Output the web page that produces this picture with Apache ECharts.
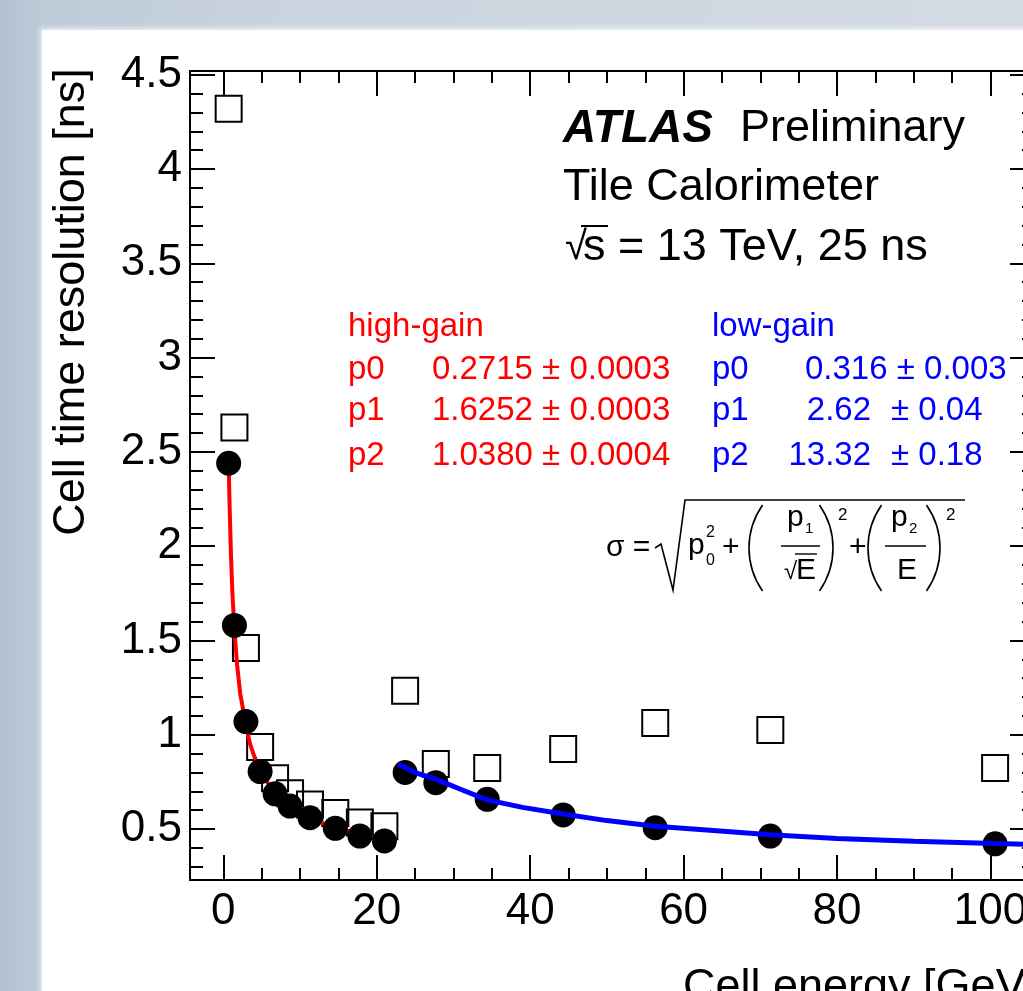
<!DOCTYPE html>
<html>
<head>
<meta charset="utf-8">
<title>Tile Calorimeter cell time resolution</title>
<script src="https://cdn.jsdelivr.net/npm/echarts@6/dist/echarts.min.js"></script>
<style>
html, body { margin: 0; padding: 0; width: 1023px; height: 991px; overflow: hidden; }
body { background: linear-gradient(90deg, #b2c0cf 0, #bdcad8 40px, #cad4de 300px, #d3dbe3 1023px); }
#panel { position: absolute; left: 42px; top: 30px; right: -20px; bottom: -20px; background: #fff;
         box-shadow: 0 0 5px 2px rgba(255,255,255,0.7); }
/* wider than the window: the right frame of the plot sits just outside the picture */
#main { position: absolute; left: 0; top: 0; width: 1060px; height: 991px; }
</style>
</head>
<body>
<div id="panel"></div>
<div id="main"></div>
<script type="text/javascript">
// high-gain cells (black dots = fitted sigma, open squares = rms)
var hgEnergy = [0.7, 1.45, 2.95, 4.8, 6.75, 8.7, 11.3, 14.6, 17.8, 21.0];
var hgSigma  = [2.44, 1.58, 1.07, 0.805, 0.687, 0.622, 0.56, 0.504, 0.463, 0.437];
var hgRms    = [4.32, 2.63, 1.46, 0.935, 0.77, 0.69, 0.63, 0.585, 0.535, 0.515];

// low-gain cells
var lgEnergy = [23.7, 27.7, 34.4, 44.3, 56.3, 71.3, 100.6];
var lgSigma  = [0.80, 0.746, 0.658, 0.575, 0.507, 0.463, 0.422];
var lgRms    = [1.233, 0.845, 0.824, 0.925, 1.063, 1.026, 0.824];

// fit curves
var hgFitE     = [0.7, 0.8, 1.0, 1.2, 1.45, 1.8, 2.2, 2.95, 3.5, 4.0, 4.8, 5.8, 6.75, 8.0, 9.5, 11.3, 13.0, 15.0, 17.8, 19.5, 21.0];
var hgFitSigma = [2.44, 2.25, 1.95, 1.74, 1.56, 1.37, 1.22, 1.05, 0.95, 0.89, 0.81, 0.745, 0.695, 0.65, 0.605, 0.562, 0.53, 0.505, 0.472, 0.46, 0.447];
var lgFitE     = [22.8, 25, 27.7, 31, 34.4, 39, 44.3, 50, 56.3, 63, 71.3, 80, 90, 100.6, 105.8];
var lgFitSigma = [0.845, 0.80, 0.765, 0.71, 0.655, 0.615, 0.58, 0.545, 0.515, 0.495, 0.47, 0.45, 0.435, 0.423, 0.418];

var xRange = { min: -4.34, max: 105.8 };
var yRange = { min: 0.23, max: 4.52 };

var FONT = '"Liberation Sans", Arial, Helvetica, sans-serif';

function pairs(xs, ys) {
    return xs.map(function (x, i) { return [x, ys[i]]; });
}

var myChart = echarts.init(document.getElementById('main'));

function axisX(pos, labels) {
    return {
        type: 'value', position: pos, min: xRange.min, max: xRange.max, splitNumber: 5,
        axisLine: { onZero: false, lineStyle: { color: '#000', width: 2 } },
        axisTick: { inside: true, length: 25, lineStyle: { color: '#000', width: 2 } },
        minorTick: { show: true, splitNumber: 4, length: 12, lineStyle: { color: '#000', width: 2 } },
        splitLine: { show: false },
        axisLabel: { show: labels, showMinLabel: false, showMaxLabel: false, color: '#000',
                     fontSize: 44, fontFamily: FONT, margin: 10 }
    };
}
function axisY(pos, labels) {
    return {
        type: 'value', position: pos, min: yRange.min, max: yRange.max, splitNumber: 8,
        axisLine: { onZero: false, lineStyle: { color: '#000', width: 2 } },
        axisTick: { inside: true, length: 25, lineStyle: { color: '#000', width: 2 } },
        minorTick: { show: true, splitNumber: 5, length: 13, lineStyle: { color: '#000', width: 2 } },
        splitLine: { show: false },
        axisLabel: { show: labels, showMinLabel: false, showMaxLabel: false, color: '#000',
                     fontSize: 44, fontFamily: FONT, margin: 8 }
    };
}

function txt(x, y, s, size, color, extra) {
    var st = { text: s, font: size + 'px ' + FONT, fill: color || '#000',
               align: 'left', verticalAlign: 'middle' };
    if (extra) { for (var k in extra) st[k] = extra[k]; }
    return { type: 'text', x: x, y: y, style: st, z: 10 };
}
function seg(pts, w) {
    return { type: 'polyline', shape: { points: pts }, style: { stroke: '#000', lineWidth: w || 1.5, fill: null }, z: 10 };
}
// thin tall bracket drawn as a circular arc; open=true gives "(", false gives ")"
function paren(edgeX, cy, open) {
    var r = 75, a = 35 * Math.PI / 180;
    var cx = open ? edgeX + r : edgeX - r;
    return { type: 'arc', z: 10,
             shape: { cx: cx, cy: cy, r: r,
                      startAngle: open ? Math.PI - a : -a, endAngle: open ? Math.PI + a : a, clockwise: true },
             style: { stroke: '#000', lineWidth: 1.6, fill: null } };
}

var red = '#ff0000', blue = '#0000ff';
var graphics = [
    // axis titles
    { type: 'text', x: 72, y: 302, rotation: Math.PI / 2, z: 10,
      style: { text: 'Cell time resolution [ns]', font: '45px ' + FONT, fill: '#000', align: 'center', verticalAlign: 'middle' } },
    txt(683, 988, 'Cell energy [GeV]', 45),
    // ATLAS label
    txt(563, 129, 'ATLAS', 46, '#000', { font: 'italic bold 46px ' + FONT }),
    txt(740, 129, 'Preliminary', 45),
    txt(563, 188, 'Tile Calorimeter', 45),
    txt(565, 248, '\u221A', 40),
    txt(583, 248, 's = 13 TeV, 25 ns', 45),
    seg([[581, 226], [608, 226]], 2),
    // fit parameters
    txt(348, 327, 'high-gain', 33, red),
    txt(348, 370, 'p0', 33, red), txt(432, 370, '0.2715 \u00B1 0.0003', 33, red),
    txt(348, 411, 'p1', 33, red), txt(432, 411, '1.6252 \u00B1 0.0003', 33, red),
    txt(348, 456, 'p2', 33, red), txt(432, 456, '1.0380 \u00B1 0.0004', 33, red),
    txt(712, 327, 'low-gain', 33, blue),
    txt(712, 370, 'p0', 33, blue), txt(805, 370, '0.316 \u00B1 0.003', 33, blue),
    txt(712, 411, 'p1', 33, blue), txt(871, 411, '2.62', 33, blue, { align: 'right' }), txt(891, 411, '\u00B1 0.04', 33, blue),
    txt(712, 456, 'p2', 33, blue), txt(871, 456, '13.32', 33, blue, { align: 'right' }), txt(891, 456, '\u00B1 0.18', 33, blue),
    // formula: sigma = sqrt(p0^2 + (p1/sqrt(E))^2 + (p2/E)^2)
    txt(606, 548, '\u03C3 =', 30),
    seg([[655, 548], [661, 544], [673, 590], [685, 500], [965, 500]], 1.6),
    txt(688, 546, 'p', 30),
    txt(706, 533, '2', 16), txt(706, 561, '0', 16),
    txt(722, 548, '+', 30),
    paren(749, 548, true),
    txt(787, 518, 'p', 30), txt(805, 529, '1', 15),
    seg([[781, 546], [820, 546]], 1.6),
    txt(784, 572, '\u221A', 24), txt(796, 571, 'E', 30),
    seg([[795, 554], [817, 554]], 1.4),
    paren(833, 548, false),
    txt(838, 515, '2', 17),
    txt(849, 548, '+', 30),
    paren(868, 548, true),
    txt(891, 518, 'p', 30), txt(909, 529, '2', 15),
    seg([[885, 546], [926, 546]], 1.6),
    txt(897, 571, 'E', 30),
    paren(940, 548, false),
    txt(946, 515, '2', 17)
];

var option = {
    animation: false,
    textStyle: { fontFamily: FONT },
    grid: { left: 190, top: 71, right: 25, bottom: 111, containLabel: false },
    xAxis: [axisX('bottom', true), axisX('top', false)],
    yAxis: [axisY('left', true), axisY('right', false)],
    graphic: graphics,
    series: [
        { name: 'high-gain rms', type: 'scatter', symbol: 'rect', symbolSize: 26, z: 2,
          itemStyle: { color: 'rgba(0,0,0,0)', borderColor: '#000', borderWidth: 2, opacity: 1 },
          data: pairs(hgEnergy, hgRms) },
        { name: 'low-gain rms', type: 'scatter', symbol: 'rect', symbolSize: 26, z: 2,
          itemStyle: { color: 'rgba(0,0,0,0)', borderColor: '#000', borderWidth: 2, opacity: 1 },
          data: pairs(lgEnergy, lgRms) },
        { name: 'high-gain fit', type: 'line', symbol: 'none', z: 3,
          lineStyle: { color: red, width: 4 }, data: pairs(hgFitE, hgFitSigma) },
        { name: 'high-gain sigma', type: 'scatter', symbol: 'circle', symbolSize: 25, z: 4,
          itemStyle: { color: '#000', opacity: 1 }, data: pairs(hgEnergy, hgSigma) },
        { name: 'low-gain sigma', type: 'scatter', symbol: 'circle', symbolSize: 25, z: 4,
          itemStyle: { color: '#000', opacity: 1 }, data: pairs(lgEnergy, lgSigma) },
        { name: 'low-gain fit', type: 'line', symbol: 'none', z: 5,
          lineStyle: { color: blue, width: 5 }, data: pairs(lgFitE, lgFitSigma) }
    ]
};
myChart.setOption(option);
</script>
</body>
</html>
